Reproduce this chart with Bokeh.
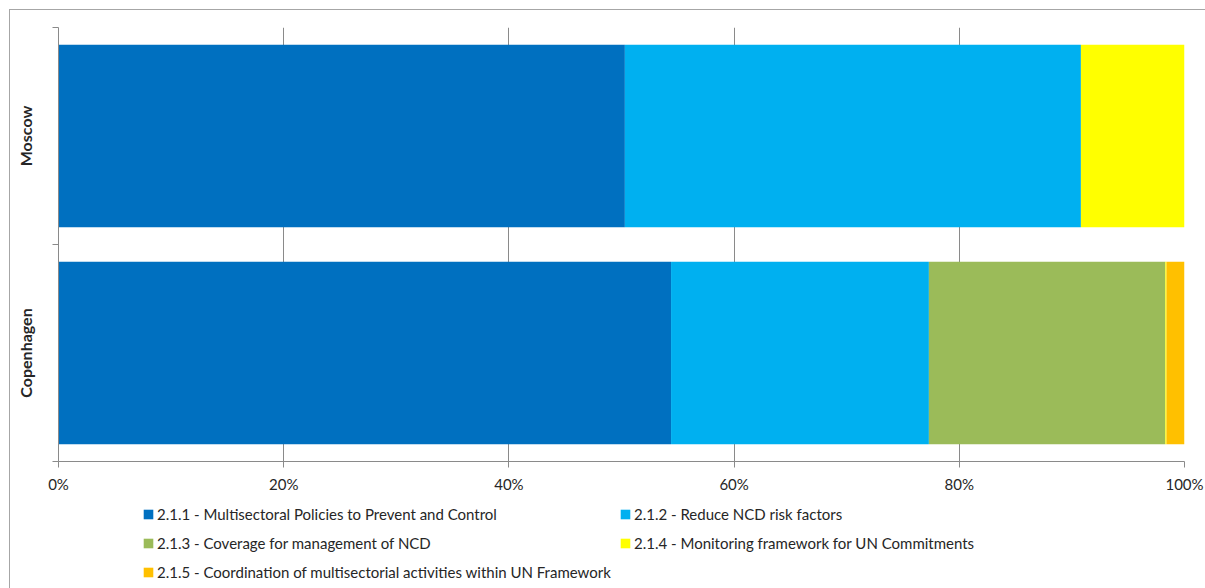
from bokeh.plotting import figure
from bokeh.layouts import column
from bokeh.models import ColumnDataSource, Range1d, FixedTicker, Legend, LegendItem
from bokeh.embed import file_html
from bokeh.resources import INLINE

# Cities, bottom to top
cities = ["Copenhagen", "Moscow"]

# Share of each activity area per city (percent)
s211 = [54.4, 50.3]
s212 = [22.9, 40.5]
s213 = [21.0, 0.0]
s214 = [0.1, 9.2]
s215 = [1.6, 0.0]

series_keys = ["s211", "s212", "s213", "s214", "s215"]
series_labels = [
    "2.1.1 - Multisectoral Policies to Prevent and Control",
    "2.1.2 - Reduce NCD risk factors",
    "2.1.3 - Coverage for management of NCD",
    "2.1.4 - Monitoring framework for UN Commitments",
    "2.1.5 - Coordination of multisectorial activities within UN Framework",
]
series_colors = ["#0070C0", "#00B0F0", "#9BBB59", "#FFFF00", "#FFC000"]

x_ticks = [0, 20, 40, 60, 80, 100]
x_tick_labels = ["0%", "20%", "40%", "60%", "80%", "100%"]

FONT = "Lato"
TEXT = "#262626"
GRAY = "#8a8a8a"
W = 1195

# each city occupies a band of width 2; bars centred in the band
pos = [2 * i + 1 for i in range(len(cities))]
bounds = [2 * i for i in range(len(cities) + 1)]

source = ColumnDataSource(dict(pos=pos, city=cities, s211=s211, s212=s212,
                               s213=s213, s214=s214, s215=s215))

# ---- main chart ----
p = figure(width=W, height=485,
           x_range=Range1d(0, 100), y_range=Range1d(0, 2 * len(cities)),
           output_backend="svg", toolbar_location=None,
           min_border_left=48, min_border_right=21,
           min_border_top=17, min_border_bottom=34)

p.hbar_stack(series_keys, y="pos", height=1.68, source=source,
             fill_color=series_colors, line_color=None)

p.outline_line_color = None
p.ygrid.visible = False
p.xgrid.ticker = FixedTicker(ticks=x_ticks)
p.xgrid.grid_line_color = GRAY
p.xgrid.grid_line_width = 1

xa = p.xaxis[0]
xa.ticker = FixedTicker(ticks=x_ticks)
xa.major_label_overrides = {t: lab for t, lab in zip(x_ticks, x_tick_labels)}
xa.axis_line_color = GRAY
xa.major_tick_line_color = GRAY
xa.major_tick_in = 0
xa.major_tick_out = 6
xa.minor_tick_line_color = None
xa.major_label_standoff = 7
xa.major_label_text_font = FONT
xa.major_label_text_font_size = "15px"
xa.major_label_text_color = TEXT

# y axis: labels at band centres, tick marks at band boundaries
ya = p.yaxis[0]
ya.ticker = FixedTicker(ticks=pos, minor_ticks=bounds)
ya.major_label_overrides = {t: c for t, c in zip(pos, cities)}
ya.major_label_orientation = "vertical"
ya.axis_line_color = GRAY
ya.major_tick_line_color = None
ya.major_tick_in = 0
ya.major_tick_out = 0
ya.minor_tick_line_color = GRAY
ya.minor_tick_in = 0
ya.minor_tick_out = 6
ya.major_label_standoff = 18
ya.major_label_text_font = FONT
ya.major_label_text_font_size = "16px"
ya.major_label_text_font_style = "bold"
ya.major_label_text_color = TEXT

# ---- legend strip (frame aligned with the chart frame above) ----
leg = figure(width=W, height=93, x_range=Range1d(0, 1), y_range=Range1d(0, 1),
             x_axis_type=None, y_axis_type=None,
             output_backend="svg", toolbar_location=None,
             min_border=0, outline_line_color=None)

# hidden copies of the stacked series, used only as legend swatches
swatches = leg.hbar_stack(series_keys, y="pos", height=1.68, source=source,
                          fill_color=series_colors, line_color=None, visible=False)
items = [LegendItem(label=lab, renderers=[r]) for lab, r in zip(series_labels, swatches)]


def make_legend(its, loc):
    return Legend(items=its, location=loc, orientation="vertical",
                  glyph_width=12, glyph_height=12, label_standoff=3,
                  label_height=22, spacing=7, padding=0, margin=0,
                  border_line_color=None, background_fill_alpha=0,
                  inactive_fill_alpha=0,
                  label_text_font=FONT, label_text_font_size="15px",
                  label_text_color=TEXT)


leg.add_layout(make_legend([items[0], items[2], items[4]], (84, 5)))
leg.add_layout(make_legend([items[1], items[3]], (561, 34)))

layout = column(p, leg, spacing=0)
layout.styles = {"margin-left": "9px", "margin-top": "9px",
                 "border-left": "1px solid #a6a6a6", "border-top": "1px solid #a6a6a6"}

open("out.html", "w").write(file_html(layout, INLINE))
